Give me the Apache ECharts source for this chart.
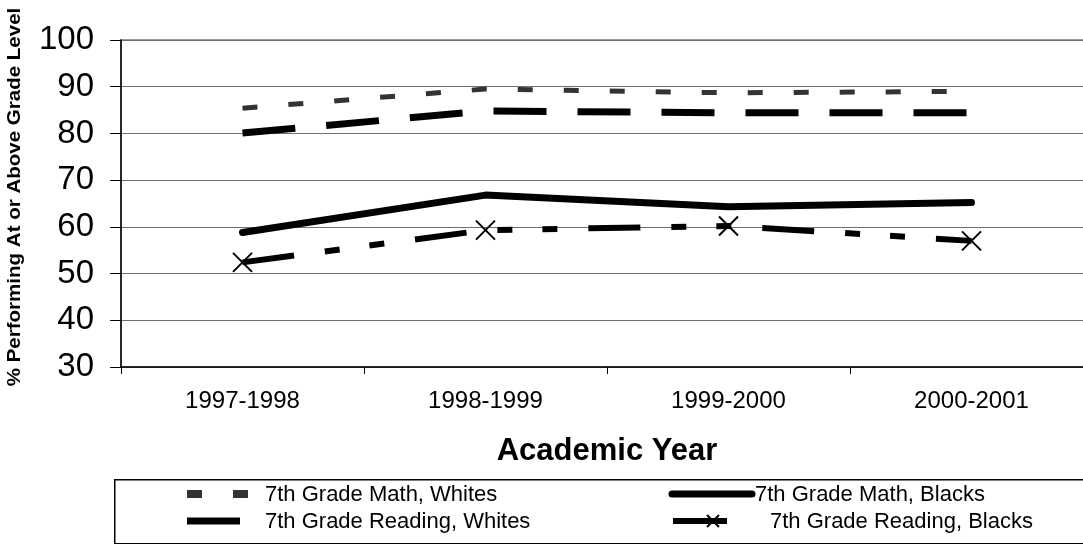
<!DOCTYPE html>
<html>
<head>
<meta charset="utf-8">
<script src="https://cdn.jsdelivr.net/npm/echarts@6/dist/echarts.min.js"></script>
<style>
  html, body { margin: 0; padding: 0; background: #fff; overflow: hidden; }
  /* the plot area runs a little past the right edge of the window */
  #chart { width: 1093px; height: 544px; }
</style>
</head>
<body>
<div id="chart"></div>
<script>
// Academic years on the x axis
const years = ['1997-1998', '1998-1999', '1999-2000', '2000-2001'];

// Percent of 7th graders performing at or above grade level
const mathWhites = [85.4, 89.5, 88.7, 89.0];
const readingWhites = [80.1, 84.8, 84.4, 84.4];
const mathBlacks = [58.8, 66.8, 64.3, 65.2];
const readingBlacks = [52.4, 59.3, 60.2, 57.0];

const seriesNames = [
  '7th Grade Math, Whites',
  '7th Grade Math, Blacks',
  '7th Grade Reading, Whites',
  '7th Grade Reading, Blacks'
];

const FONT = '"Liberation Sans", Arial, sans-serif';

// Line styles shared by the plotted series and the legend samples
const styles = {
  mathWhites: { stroke: '#333', lineWidth: 5, lineDash: [15, 31], lineCap: 'butt' },
  readingWhites: { stroke: '#000', lineWidth: 7, lineDash: [53, 31], lineCap: 'butt' },
  mathBlacks: { stroke: '#000', lineWidth: 7, lineCap: 'round', lineJoin: 'round' },
  readingBlacks: { stroke: '#000', lineWidth: 6, lineDash: [52, 31, 15, 30, 15, 31], lineCap: 'butt' }
};
const CROSS = 'path://M0,0L10,10M10,0L0,10';

const chart = echarts.init(document.getElementById('chart'), null, { renderer: 'canvas' });

function legendText(x, y, text) {
  return {
    type: 'text', x: x, y: y, silent: true,
    style: { text: text, fontFamily: FONT, fontSize: 22, fill: '#000', verticalAlign: 'middle' }
  };
}
function legendLine(x1, x2, y, s, extra) {
  return {
    type: 'line', silent: true,
    shape: { x1: x1, y1: y, x2: x2, y2: y },
    style: Object.assign({ fill: null }, s, extra || {})
  };
}

chart.setOption({
  animation: false,
  backgroundColor: '#fff',
  grid: {
    left: 121, top: 40, right: 0, bottom: 177,
    show: true, borderColor: '#9a9a9a', borderWidth: 2, backgroundColor: 'transparent'
  },
  xAxis: {
    type: 'category',
    data: years,
    boundaryGap: true,
    axisLine: { lineStyle: { color: '#000', width: 1.5 } },
    axisTick: { show: true, length: 7, lineStyle: { color: '#000' } },
    axisLabel: { fontFamily: FONT, fontSize: 24, color: '#000', margin: 22 }
  },
  yAxis: {
    type: 'value',
    min: 30, max: 100, interval: 10,
    axisLine: { show: true, lineStyle: { color: '#000', width: 1.5 } },
    axisTick: { show: true, length: 11, lineStyle: { color: '#000' } },
    axisLabel: { fontFamily: FONT, fontSize: 33, color: '#000', margin: 27 },
    splitLine: { lineStyle: { color: '#707070', width: 1 } }
  },
  graphic: [
    // legend frame
    {
      type: 'rect', left: 114, top: 479, silent: true,
      shape: { width: 1000, height: 64 },
      style: { fill: 'transparent', stroke: '#000', lineWidth: 1.5 }
    },
    // legend samples and labels
    legendLine(187, 249, 494, styles.mathWhites, { lineWidth: 8 }),
    legendText(265, 495, seriesNames[0]),
    legendLine(187, 240, 521, styles.readingWhites, { lineDash: null }),
    legendText(265, 522, seriesNames[2]),
    legendLine(672, 752, 494, styles.mathBlacks),
    legendText(755, 495, seriesNames[1]),
    legendLine(673, 727, 521, styles.readingBlacks, { lineDash: null }),
    {
      type: 'polyline', silent: true,
      shape: { points: [[707, 515], [719, 527]] },
      style: { stroke: '#000', lineWidth: 2, fill: null }
    },
    {
      type: 'polyline', silent: true,
      shape: { points: [[719, 515], [707, 527]] },
      style: { stroke: '#000', lineWidth: 2, fill: null }
    },
    legendText(770, 522, seriesNames[3]),
    // axis titles
    {
      type: 'text', x: 607, y: 451, silent: true,
      style: {
        text: 'Academic Year', fontFamily: FONT, fontSize: 31, fontWeight: 'bold', fill: '#000',
        align: 'center', verticalAlign: 'middle'
      }
    },
    {
      type: 'text', silent: true,
      x: 15, y: 197, rotation: Math.PI / 2, scaleX: 1.14,
      style: {
        text: '% Performing At or Above Grade Level',
        fontFamily: FONT, fontSize: 18, fontWeight: 'bold', fill: '#000',
        align: 'center', verticalAlign: 'middle'
      }
    }
  ],
  series: [
    {
      name: seriesNames[0], type: 'line', data: mathWhites, symbol: 'none',
      itemStyle: { color: '#333' },
      lineStyle: { color: '#333', width: 5, type: styles.mathWhites.lineDash, cap: 'butt' }
    },
    {
      name: seriesNames[2], type: 'line', data: readingWhites, symbol: 'none',
      itemStyle: { color: '#000' },
      lineStyle: { color: '#000', width: 7, type: styles.readingWhites.lineDash, cap: 'butt' }
    },
    {
      name: seriesNames[1], type: 'line', data: mathBlacks, symbol: 'none',
      itemStyle: { color: '#000' },
      lineStyle: { color: '#000', width: 7, type: 'solid', cap: 'round', join: 'round' }
    },
    {
      name: seriesNames[3], type: 'line', data: readingBlacks,
      symbol: CROSS, symbolSize: 19,
      itemStyle: { color: '#000', borderColor: '#000', borderWidth: 2 },
      lineStyle: { color: '#000', width: 6, type: styles.readingBlacks.lineDash, cap: 'butt' }
    }
  ]
});
</script>
</body>
</html>
